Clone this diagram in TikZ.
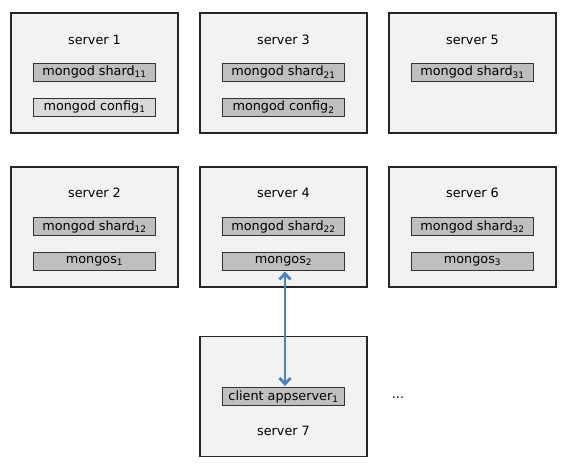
\documentclass[tikz,border=0pt]{standalone}
\usepackage{fontspec}
\setmainfont{DejaVu Sans}
\usetikzlibrary{arrows.meta}
\definecolor{srvfill}{HTML}{F2F2F2}
\definecolor{boxdark}{HTML}{BFBFBF}
\definecolor{boxlight}{HTML}{D9D9D9}
\definecolor{arrowblue}{HTML}{4F81BD}
\begin{document}
\begin{tikzpicture}[x=1pt,y=1pt,
  server/.style={draw=black!85,line width=1.6pt,fill=srvfill,minimum width=167pt,minimum height=120pt,inner sep=0pt},
  inbox/.style={draw=black!80,line width=0.9pt,fill=boxdark,minimum width=122pt,minimum height=18pt,inner sep=0pt,font=\fontsize{12.8}{14}\selectfont},
  inboxlight/.style={inbox,fill=boxlight},
  title/.style={font=\fontsize{12.8}{14}\selectfont,inner sep=0pt},
  link/.style={arrowblue,line width=2.8pt,{Straight Barb[length=6pt,width=11pt]}-{Straight Barb[length=6pt,width=11pt]}}
]
\useasboundingbox (0,0) rectangle (567,464);
% row 1
\node[server] (s1) at (94.5,391) {};
\node[server] (s3) at (283.5,391) {};
\node[server] (s5) at (472.5,391) {};
% row 2
\node[server] (s2) at (94.5,237) {};
\node[server] (s4) at (283.5,237) {};
\node[server] (s6) at (472.5,237) {};
% row 3
\node[server] (s7) at (283.5,67.5) {};

\node[title] (t1) at (94.5,424) {server 1};
\node[title] (t3) at (283.5,424) {server 3};
\node[title] (t5) at (472.5,424) {server 5};
\node[inbox] (sh11) at (94.5,392) {mongod shard\textsubscript{11}};
\node[inbox] (sh21) at (283.5,392) {mongod shard\textsubscript{21}};
\node[inbox] (sh31) at (472.5,392) {mongod shard\textsubscript{31}};
\node[inboxlight] (c1) at (94.5,357) {mongod config\textsubscript{1}};
\node[inbox] (c2) at (283.5,357) {mongod config\textsubscript{2}};

\node[title] (t2) at (94.5,271) {server 2};
\node[title] (t4) at (283.5,271) {server 4};
\node[title] (t6) at (472.5,271) {server 6};
\node[inbox] (sh12) at (94.5,237.5) {mongod shard\textsubscript{12}};
\node[inbox] (sh22) at (283.5,237.5) {mongod shard\textsubscript{22}};
\node[inbox] (sh32) at (472.5,237.5) {mongod shard\textsubscript{32}};
\node[inbox] (m1) at (94.5,203) {mongos\textsubscript{1}};
\node[inbox] (m2) at (283.5,203) {mongos\textsubscript{2}};
\node[inbox] (m3) at (472.5,203) {mongos\textsubscript{3}};

\node[inbox] (cl) at (283.5,67.5) {client appserver\textsubscript{1}};
\node[title] (t7) at (283.5,33) {server 7};
\node[title] (dots) at (398,66) {...};

\draw[link] ([xshift=1.5pt,yshift=-1pt]m2.south) -- ([xshift=1.5pt,yshift=1pt]cl.north);
\end{tikzpicture}
\end{document}
